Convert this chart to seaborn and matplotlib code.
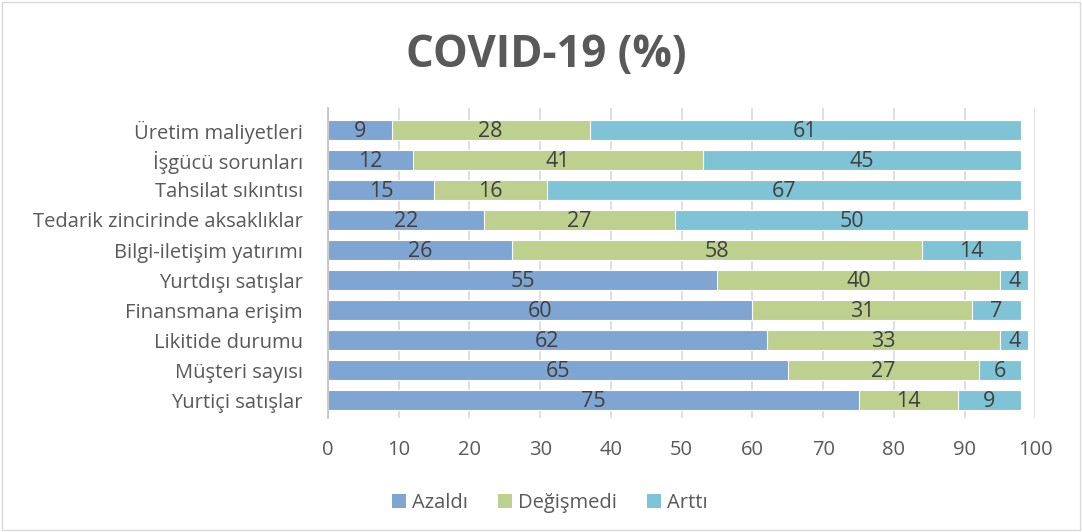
import numpy as np
import pandas as pd
import matplotlib
matplotlib.use("Agg")
import matplotlib.pyplot as plt
import seaborn as sns
from matplotlib.patches import Patch, Rectangle

categories = ["Üretim maliyetleri", "İşgücü sorunları", "Tahsilat sıkıntısı",
              "Tedarik zincirinde aksaklıklar", "Bilgi-iletişim yatırımı",
              "Yurtdışı satışlar", "Finansmana erişim", "Likitide durumu",
              "Müşteri sayısı", "Yurtiçi satışlar"]
azaldi = [9, 12, 15, 22, 26, 55, 60, 62, 65, 75]
degismedi = [28, 41, 16, 27, 58, 40, 31, 33, 27, 14]
artti = [61, 45, 67, 50, 14, 4, 7, 4, 6, 9]

series = ["Azaldı", "Değişmedi", "Arttı"]
colors = ["#7FA5D2", "#BDD08E", "#7FC4D6"]

sns.set_style("white")
plt.rcParams["font.family"] = ["Open Sans", "DejaVu Sans"]

df = pd.DataFrame({"cat": categories, "a": azaldi, "d": degismedi, "t": artti})
df["c1"] = df["a"]
df["c2"] = df["a"] + df["d"]
df["c3"] = df["c2"] + df["t"]

fig = plt.figure(figsize=(10.82, 5.32), dpi=100)
ax = fig.add_axes([0.303, 0.214, 0.654, 0.583])

# stacked: draw cumulative totals from largest to smallest
for col, c in zip(["c3", "c2", "c1"], colors[::-1]):
    sns.barplot(data=df, x=col, y="cat", color=c, orient="h", width=0.67,
                saturation=1, ax=ax, edgecolor="white", linewidth=0.8)

for p in ax.patches:
    p.set_zorder(2)

for i, row in df.iterrows():
    starts = [0, row["c1"], row["c2"]]
    vals = [row["a"], row["d"], row["t"]]
    for s, v in zip(starts, vals):
        ax.text(s + v / 2, i + 0.05, str(v), ha="center", va="center",
                fontsize=15.5, color="#404040", zorder=4)

ax.set_xlim(0, 100)
ax.set_ylim(9.6, -0.73)
ax.set_xticks(range(0, 101, 10))
ax.xaxis.grid(True, color="#D9D9D9", linewidth=1.2, zorder=1)
ax.set_axisbelow(True)
ax.set_xlabel("")
ax.set_ylabel("")
ax.tick_params(axis="both", labelsize=14.5, colors="#595959", length=0)
ax.tick_params(axis="y", pad=18)
ax.tick_params(axis="x", pad=16)
for s in ["top", "right", "bottom"]:
    ax.spines[s].set_visible(False)
ax.spines["left"].set_color("#BFBFBF")
ax.spines["left"].set_linewidth(1.2)

fig.text(0.505, 0.895, "COVID-19 (%)", ha="center", va="center",
         fontsize=31.5, fontweight="bold", color="#595959")

handles = [Patch(facecolor=c, edgecolor="none") for c in colors]
fig.legend(handles, series, loc="center", bbox_to_anchor=(0.508, 0.055), ncol=3,
           frameon=False, fontsize=14.5, handlelength=0.7, handleheight=0.7,
           handletextpad=0.3, columnspacing=1.5, labelcolor="#595959")

fig.patches.append(Rectangle((0.002, 0.004), 0.996, 0.992, transform=fig.transFigure,
                             fill=False, edgecolor="#D9D9D9", linewidth=1))

fig.savefig("out.png", dpi=100)
